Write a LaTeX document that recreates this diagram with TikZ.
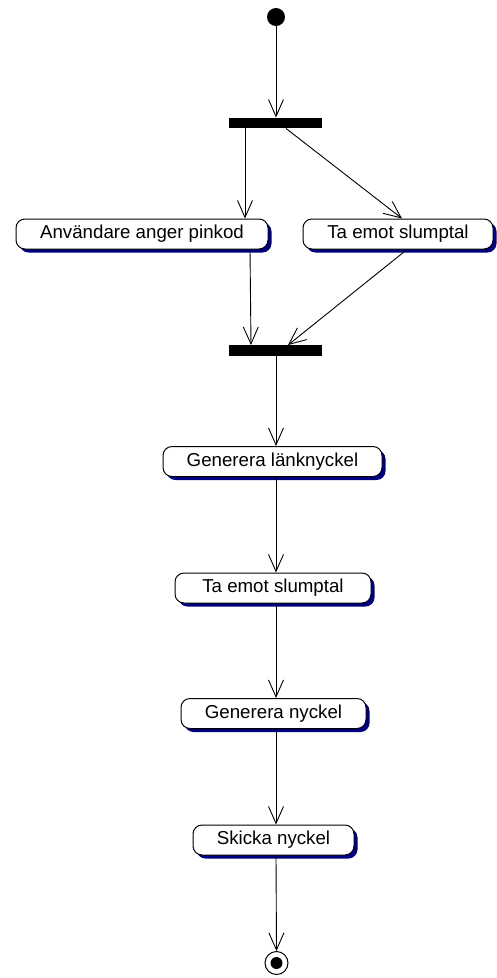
\documentclass[tikz,border=0pt]{standalone}
\usepackage{fontspec}
\setmainfont{Liberation Sans}
\usetikzlibrary{arrows.meta,shadows}
\definecolor{shadownavy}{RGB}{0,0,128}
\begin{document}
\begin{tikzpicture}[x=1pt,y=-1pt,
  activity/.style={draw=black, line width=1pt, fill=white, rounded corners=9pt,
    minimum height=30pt, inner sep=0pt, font=\fontsize{18.7}{20}\selectfont,
    general shadow={shadow xshift=3.5pt, shadow yshift=-3.5pt, fill=shadownavy}},
  syncbar/.style={fill=black, draw=none, minimum width=93pt, minimum height=10.5pt, inner sep=0pt},
  flow/.style={draw=black, line width=0.9pt, -{Straight Barb[length=17pt,width=15pt,line width=0.9pt]}}]
\useasboundingbox (0,0) rectangle (496,978);

% start and end states
\node[circle, fill=black, minimum size=18pt, inner sep=0pt] (start) at (276,17) {};
\node[circle, draw=black, line width=1pt, fill=white, minimum size=23pt, inner sep=0pt] (stop) at (276.5,963) {};
\node[circle, fill=black, minimum size=12pt, inner sep=0pt] at (stop.center) {};

% fork and join bars
\node[syncbar] (fork) at (275.5,123) {};
\node[syncbar] (join) at (275.5,350.5) {};

% activities
\node[activity, minimum width=252pt] (pin)   at (142,234)   {Användare anger pinkod};
\node[activity, minimum width=190pt] (rand1) at (398,234)   {Ta emot slumptal};
\node[activity, minimum width=219pt] (link)  at (272.5,461.5) {Generera länknyckel};
\node[activity, minimum width=196pt] (rand2) at (273,588)   {Ta emot slumptal};
\node[activity, minimum width=185pt] (gen)   at (273.5,713.5) {Generera nyckel};
\node[activity, minimum width=161pt] (send)  at (273.5,840) {Skicka nyckel};

% transitions
\draw[flow] (start.south) -- ([xshift=0.5pt]fork.north);
\draw[flow] ([xshift=-30.5pt]fork.south) -- ([xshift=103pt]pin.north);
\draw[flow] ([xshift=10.5pt]fork.south) -- ([xshift=4pt]rand1.north);
\draw[flow] ([xshift=108pt]pin.south) -- ([xshift=-24.5pt]join.north);
\draw[flow] ([xshift=9pt]rand1.south) -- ([xshift=12.5pt]join.north);
\draw[flow] ([xshift=0.5pt]join.south) -- ([xshift=3.5pt]link.north);
\draw[flow] ([xshift=3.5pt]link.south) -- ([xshift=3pt]rand2.north);
\draw[flow] ([xshift=3pt]rand2.south) -- ([xshift=2.5pt]gen.north);
\draw[flow] ([xshift=2.5pt]gen.south) -- ([xshift=2.5pt]send.north);
\draw[flow] ([xshift=2.5pt]send.south) -- (stop.north);
\end{tikzpicture}
\end{document}
